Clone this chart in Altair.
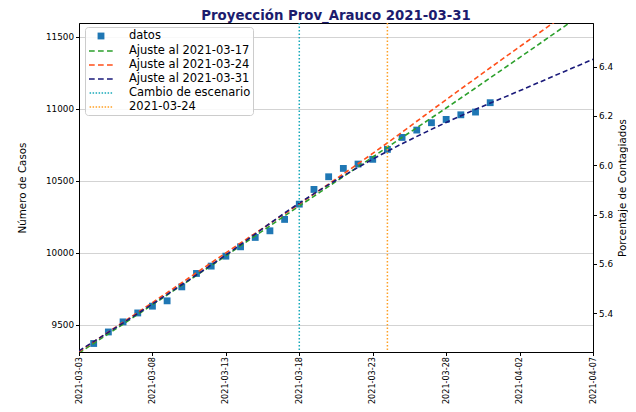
import altair as alt
import pandas as pd

TITULO = "Proyección Prov_Arauco 2021-03-31"

# --- datos observados ---
fechas_datos = [
    "2021-03-04", "2021-03-05", "2021-03-06", "2021-03-07", "2021-03-08",
    "2021-03-09", "2021-03-10", "2021-03-11", "2021-03-12", "2021-03-13",
    "2021-03-14", "2021-03-15", "2021-03-16", "2021-03-17", "2021-03-18",
    "2021-03-19", "2021-03-20", "2021-03-21", "2021-03-22", "2021-03-23",
    "2021-03-24", "2021-03-25", "2021-03-26", "2021-03-27", "2021-03-28",
    "2021-03-29", "2021-03-30", "2021-03-31",
]
casos = [
    9371, 9451, 9521, 9583, 9630,
    9667, 9764, 9857, 9908, 9977,
    10042, 10107, 10153, 10232, 10338,
    10440, 10528, 10586, 10616, 10649,
    10718, 10801, 10852, 10903, 10926,
    10958, 10977, 11042,
]

# --- ajustes ---
fechas_ajuste = ["2021-03-03", "2021-03-08", "2021-03-13", "2021-03-18",
                 "2021-03-23", "2021-03-28", "2021-04-02", "2021-04-07"]
ajuste_0317 = [9305, 9640, 9980, 10325, 10665, 11005, 11355, 11710]
ajuste_0324 = [9315, 9655, 10000, 10340, 10690, 11063, 11430, 11790]
ajuste_0331 = [9320, 9645, 9985, 10345, 10650, 10905, 11125, 11343]

# --- lineas verticales ---
fechas_eventos = ["2021-03-18", "2021-03-24"]
nombres_eventos = ["Cambio de escenario", "2021-03-24"]

series = ["datos", "Ajuste al 2021-03-17", "Ajuste al 2021-03-24",
          "Ajuste al 2021-03-31", "Cambio de escenario", "2021-03-24"]
colores = ["#1f77b4", "#2ca02c", "#ff4f1a", "#1a1a7a", "#17a9b9", "#ffa024"]

POBLACION = 176500
ticks_casos = [9500, 10000, 10500, 11000, 11500]
ticks_pct = [5.4, 5.6, 5.8, 6.0, 6.2, 6.4]
dominio_casos = [9312, 11595]
dominio_pct = [5.243, 6.577]

# legend symbol paths (unit = 6 px)
SQ = "M-0.57,-0.57H0.57V0.57H-0.57Z"
DASH = "M-2,0H-1.05M-0.5,0H0.45M1,0H1.95"
DOT = "".join(f"M{-1.9 + 0.5 * i:.3f},0H{-1.9 + 0.5 * i + 0.25:.3f}" for i in range(8))
formas = [SQ, DASH, DASH, DASH, DOT, DOT]
rellenos = ["#1f77b4", "transparent", "transparent", "transparent", "transparent", "transparent"]
trazos = ["transparent"] + colores[1:]

df_datos = pd.DataFrame({"fecha": fechas_datos, "casos": casos, "serie": "datos"})
df_datos["porcentaje"] = df_datos["casos"] / POBLACION * 100

filas = []
for nombre, vals in zip(series[1:4], [ajuste_0317, ajuste_0324, ajuste_0331]):
    for f, v in zip(fechas_ajuste, vals):
        filas.append({"fecha": f, "casos": v, "serie": nombre})
df_aj = pd.DataFrame(filas)
df_ev = pd.DataFrame({"fecha": fechas_eventos, "serie": nombres_eventos})

FONT = "DejaVu Sans"

leyenda = alt.Legend(
    title=None, orient="none", legendX=6, legendY=4, padding=2,
    fillColor="rgba(255,255,255,0.85)", strokeColor="#cccccc", cornerRadius=3,
    labelFont=FONT, labelFontSize=11.5, labelColor="black",
    symbolSize=144, symbolStrokeWidth=1.5, symbolOffset=7, labelOffset=21,
    rowPadding=1,
)

x_enc = alt.X(
    "fecha:T",
    scale=alt.Scale(
        type="utc",
        domain=[alt.DateTime(year=2021, month=3, date=3, utc=True),
                alt.DateTime(year=2021, month=4, date=7, utc=True)],
    ),
    axis=alt.Axis(
        title=None, grid=False, format="%Y-%m-%d", labelAngle=270,
        values=[alt.DateTime(year=2021, month=m, date=d, utc=True)
                for m, d in [(3, 3), (3, 8), (3, 13), (3, 18), (3, 23), (3, 28), (4, 2), (4, 7)]],
        labelFontSize=8.1, tickSize=3.5, labelPadding=1,
    ),
)

y_scale = alt.Scale(domain=dominio_casos, nice=False, zero=False)
y_axis = alt.Axis(
    title="Número de Casos", values=ticks_casos, format="d", grid=True,
    gridColor="#c8c8c8", gridWidth=0.8, tickSize=3.5, labelFontSize=8.8,
    titleFontSize=10.3, titleFontWeight="normal", titleAngle=270,
    titleX=-57, titleY=164.5, titleBaseline="middle", titleAlign="center",
)

fill_enc = alt.Fill("serie:N", scale=alt.Scale(domain=series, range=rellenos), legend=leyenda)
shape_enc = alt.Shape("serie:N", scale=alt.Scale(domain=series, range=formas), legend=leyenda)
stroke_enc = alt.Stroke("serie:N", scale=alt.Scale(domain=series, range=trazos), legend=leyenda)

puntos = alt.Chart(df_datos).mark_point(filled=True, size=144, opacity=1, strokeWidth=0).encode(
    x=x_enc,
    y=alt.Y("casos:Q", scale=y_scale, axis=y_axis),
    fill=fill_enc,
    shape=shape_enc,
)

lineas = alt.Chart(df_aj).mark_line(strokeDash=[5, 3], strokeWidth=1.6, clip=True,
                                    interpolate="monotone").encode(
    x=x_enc,
    y=alt.Y("casos:Q", scale=y_scale, axis=y_axis),
    stroke=stroke_enc,
)

reglas = alt.Chart(df_ev).mark_rule(strokeDash=[1.5, 2], strokeWidth=1.5).encode(
    x=x_enc,
    stroke=stroke_enc,
)

izquierda = alt.layer(puntos, lineas, reglas)

derecha = alt.Chart(df_datos).mark_point(opacity=0).encode(
    x=x_enc,
    y=alt.Y(
        "porcentaje:Q",
        scale=alt.Scale(domain=dominio_pct, nice=False, zero=False),
        axis=alt.Axis(
            orient="right", title="Porcentaje de Contagiados", values=ticks_pct,
            format=".1f", grid=False, tickSize=3.5, labelFontSize=8.8,
            titleFontSize=10.3, titleFontWeight="normal", titleAngle=270,
            titleX=29, titleY=164.5, titleBaseline="middle", titleAlign="center",
        ),
    ),
)

chart = alt.layer(izquierda, derecha).resolve_scale(y="independent").properties(
    width=514, height=329,
    padding={"left": 71, "top": 15, "right": 35, "bottom": 52},
    autosize=alt.AutoSizeParams(type="none"),
    title=alt.Title(TITULO, font=FONT, fontSize=13.3, fontWeight="bold",
                    color="#1c1c6e", anchor="middle", offset=0),
).configure(font=FONT).configure_view(
    stroke="black", strokeWidth=1
).configure_axis(
    domainColor="black", tickColor="black", labelColor="black", titleColor="black",
    labelFont=FONT, titleFont=FONT,
)

chart.save("out.html", embed_options={"renderer": "svg", "actions": False})
